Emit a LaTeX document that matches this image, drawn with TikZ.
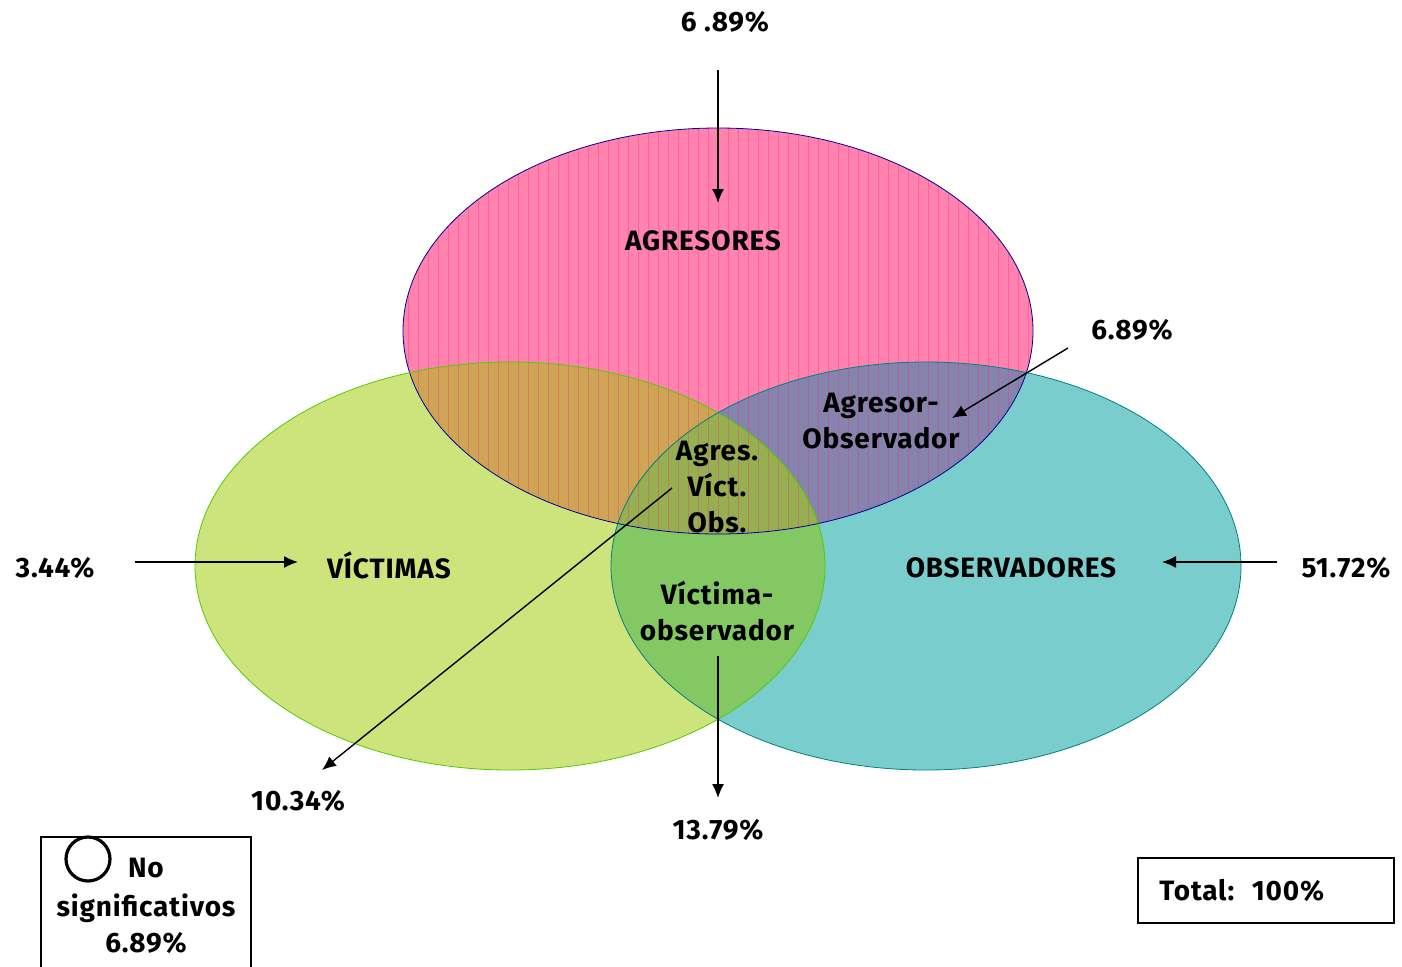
\documentclass[tikz,border=0pt]{standalone}
\usepackage{fontspec}
\setmainfont{Fira Sans}[LetterSpace=3]
\usetikzlibrary{arrows.meta}
\definecolor{rosa}{RGB}{255,130,175}
\definecolor{rayarosa}{RGB}{255,40,135}
\definecolor{verde}{RGB}{205,228,125}
\definecolor{turquesa}{RGB}{122,205,205}
\definecolor{naranja}{RGB}{205,165,85}
\definecolor{lila}{RGB}{132,132,172}
\definecolor{oliva}{RGB}{150,175,80}
\definecolor{verdeobs}{RGB}{132,200,100}
\begin{document}
\begin{tikzpicture}[x=0.5pt, y=-0.5pt,
    texto/.style={font=\bfseries\fontsize{14}{18}\selectfont, inner sep=0pt, align=center},
    flecha/.style={-{Latex[length=7pt, width=6pt]}, line width=0.7pt},
    caja/.style={draw, line width=0.8pt}]
  \useasboundingbox (0,0) rectangle (1402,966);
  \def\agr{(718,331) ellipse [x radius=315, y radius=203]}
  \def\vic{(510,566) ellipse [x radius=315, y radius=204]}
  \def\obs{(926,566) ellipse [x radius=315, y radius=204]}

  % circulos
  \fill[rosa] \agr;
  \fill[verde] \vic;
  \fill[turquesa] \obs;
  \begin{scope}
    \clip \agr;
    \fill[naranja] \vic;
    \fill[lila] \obs;
  \end{scope}
  \begin{scope}
    \clip \vic;
    \fill[verdeobs] \obs;
    \clip \agr;
    \fill[oliva] \obs;
  \end{scope}
  \begin{scope}
    \clip \agr;
    \foreach \x in {408,418,...,1030}
      \draw[rayarosa, opacity=0.35, line width=0.5pt] (\x,120) -- (\x,540);
  \end{scope}
  \draw[blue!60!black, line width=0.4pt] \agr;
  \draw[green!60!yellow!80!black, line width=0.4pt] \vic;
  \draw[teal, line width=0.4pt] \obs;

  % etiquetas
  \node[texto] (agresores) at (703,241) {AGRESORES};
  \node[texto] (victimas) at (389,565) {VÍCTIMAS};
  \node[texto] (observadores) at (1011,568) {OBSERVADORES};
  \node[texto] (agrobs) at (881,421) {Agresor-\\Observador};
  \node[texto] (triple) at (717,487) {Agres.\\Víct.\\Obs.};
  \node[texto] (vicobs) at (717,611) {Víctima-\\observador};

  \node[texto] (pctagr) at (725,22) {6 .89\%};
  \node[texto] (pctagrobs) at (1132,330) {6.89\%};
  \node[texto] (pctvic) at (55,568) {3.44\%};
  \node[texto] (pctobs) at (1346,568) {51.72\%};
  \node[texto] (pcttriple) at (298,801) {10.34\%};
  \node[texto] (pctvicobs) at (718,830) {13.79\%};

  % flechas
  \coordinate (a1) at (718,70);   \coordinate (b1) at (718,203);
  \coordinate (a2) at (1068,348); \coordinate (b2) at (952,418);
  \coordinate (a3) at (135,562);  \coordinate (b3) at (298,562);
  \coordinate (a4) at (1277,562); \coordinate (b4) at (1162,562);
  \coordinate (a5) at (672,488);  \coordinate (b5) at (322,770);
  \coordinate (a6) at (718,656);  \coordinate (b6) at (718,798);
  \draw[flecha] (a1) -- (b1);
  \draw[flecha] (a2) -- (b2);
  \draw[flecha] (a3) -- (b3);
  \draw[flecha] (a4) -- (b4);
  \draw[flecha] (a5) -- (b5);
  \draw[flecha] (a6) -- (b6);

  % cuadros
  \draw[caja] (41,980) |- (251,837) -- (251,980);
  \draw[line width=1.6pt] (88,859) circle [radius=22];
  \node[texto] (no) at (146,868) {No};
  \node[texto] (nosig) at (146,924) {significativos\\6.89\%};
  \node[caja, minimum width=128pt, minimum height=32.5pt, inner sep=0pt] (total) at (1266,890.5) {};
  \node[texto, anchor=west] (totaltxt) at (1159,890) {Total: \ 100\%};
\end{tikzpicture}
\end{document}
